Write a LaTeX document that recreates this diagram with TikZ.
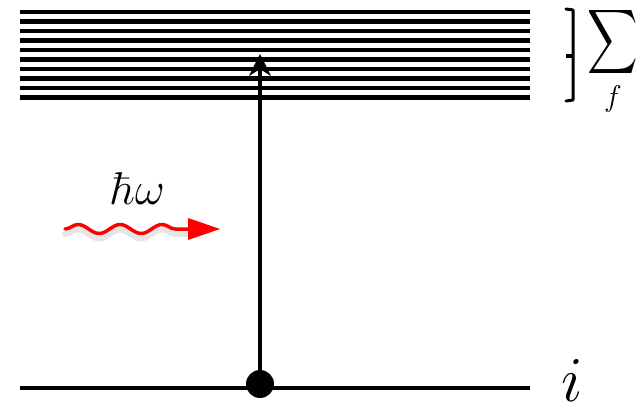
\RequirePackage{fix-cm}
\documentclass[tikz,border=0pt]{standalone}
\usepackage{amsmath}
\usetikzlibrary{
	positioning,
	arrows.meta,
	decorations.pathmorphing
}

\begin{document}
\begin{tikzpicture}[
			x=1pt,y=-1pt,
			level/.style={line width=4.8pt},
			arrow/.style={-{Stealth[length=22pt,width=22pt,inset=7pt]},line width=3.5pt},
			photon/.style={red,line width=3.5pt,line cap=round,
				decorate,decoration={snake,amplitude=4.5pt,segment length=42pt,post length=1pt}},
			dot/.style={circle,fill=black,inner sep=0pt,minimum size=28pt}
			]
			
			\useasboundingbox (0,0) rectangle (643,409);
			
			% final states
			\foreach \k in {0,...,9}
				\draw[level] (20,{12+9.5*\k}) -- (530,{12+9.5*\k});
			
			% initial state
			\draw[level,line width=4pt] (20,388) -- (530,388);
			\node[dot] (init) at (260,384) {};
			\coordinate (top) at (260,54);
			\draw[arrow] (init.center) -- (top);
			
			\node[anchor=base west,inner sep=0pt,font=\fontsize{64}{64}\selectfont] (ilabel) at (561,401) {$i$};
			
			% brace and sum
			\draw[line width=3pt,line cap=round,line join=round]
				(566,9) -- (573,10) -- (573,100) -- (566,101);
			\draw[line width=3.5pt] (573,56) -- (566,56);
			\node[inner sep=0pt,xscale=3.5,yscale=4.5] (sum) at (613,42)
				{$\displaystyle\sum$};
			\node[inner sep=0pt,font=\fontsize{30}{30}\selectfont,below=7pt of sum] (sumidx) {$f$};
			
			% photon
			\node[font=\fontsize{46}{46}\selectfont] (hw) at (138,189) {$\hbar\omega$};
			\coordinate (ph0) at (65,229);
			\coordinate (ph1) at (192,229);
			\draw[photon,black,opacity=0.1,line width=6pt] ([yshift=-5pt]ph0) -- ([yshift=-5pt]ph1);
			\draw[photon] (ph0) -- (ph1);
			\fill[red] (188,218) -- (220,229) -- (188,240) -- cycle;
			
		\end{tikzpicture}
\end{document}
